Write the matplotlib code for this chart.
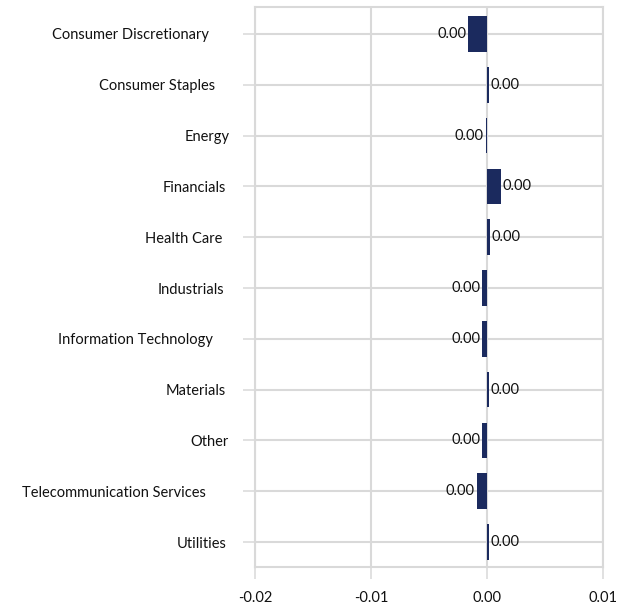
import matplotlib
matplotlib.use("Agg")
import matplotlib.pyplot as plt
import matplotlib.transforms as mtransforms

categories = ["Consumer Discretionary", "Consumer Staples", "Energy", "Financials",
              "Health Care", "Industrials", "Information Technology", "Materials",
              "Other", "Telecommunication Services", "Utilities"]
values = [-0.0016, 0.0002, -0.0001, 0.0012, 0.0003, -0.0004, -0.0004, 0.0002,
          -0.0004, -0.0009, 0.0002]
xticks = [-0.02, -0.01, 0.00, 0.01]
xtick_labels = ["-0.02", "-0.01", "0.00", "0.01"]
# extra leftward shift (px) of each category label (original labels had trailing spaces)
label_shift_px = [20, 14, 0, 3, 6.5, 5, 16.5, 3, 0.5, 23.5, 2.5]

GRID = "#D9D9D9"
BAR = "#1B2A5E"
FONT = "Lato"
FS = 10.5
TXT = "#111111"

fig = plt.figure(figsize=(6.35, 6.05), dpi=100)
ax = fig.add_axes([255/635, 1-567/605, 348/635, 560/605])

ypos = list(range(len(categories)))
ax.barh(ypos, values, height=0.70, color=BAR, zorder=3)

ax.set_xlim(-0.02, 0.01)
ax.set_ylim(10.49, -0.53)
ax.set_xticks(xticks)
ax.set_xticklabels(xtick_labels, fontfamily=FONT, fontsize=FS, color=TXT)
ax.set_yticks(ypos)
ax.set_yticklabels(categories, fontfamily=FONT, fontsize=FS, color=TXT)

ax.grid(True, axis="both", color=GRID, linewidth=1.5, zorder=0)
for s in ax.spines.values():
    s.set_color(GRID)
    s.set_linewidth(1.5)
ax.tick_params(axis="both", length=8.6, width=1.1, color=GRID)
ax.tick_params(axis="x", pad=9)
ax.tick_params(axis="y", pad=9.9)

for lab, sh in zip(ax.get_yticklabels(), label_shift_px):
    lab.set_transform(lab.get_transform() +
                      mtransforms.ScaledTranslation(-sh/100, 0, fig.dpi_scale_trans))

for y, v in zip(ypos, values):
    txt = f"{v:.2f}".replace("-0.00", "0.00")
    if v < 0:
        ax.annotate(txt, (v, y), xytext=(-1.5, 0), textcoords="offset points",
                    ha="right", va="center", fontfamily=FONT, fontsize=FS, color=TXT)
    else:
        ax.annotate(txt, (v, y), xytext=(1.0, 0), textcoords="offset points",
                    ha="left", va="center", fontfamily=FONT, fontsize=FS, color=TXT)

fig.savefig("out.png", dpi=100)
